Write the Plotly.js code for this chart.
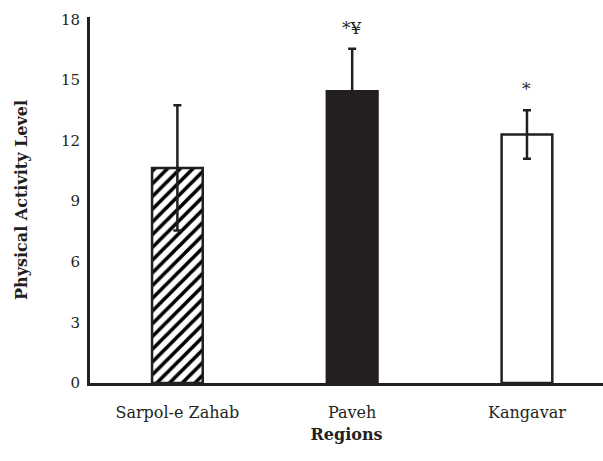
<!DOCTYPE html>
<html>
<head>
<meta charset="utf-8">
<script src="https://cdn.plot.ly/plotly-3.0.1.min.js"></script>
<style>html,body{margin:0;padding:0;background:#fff;}#chart{width:603px;height:461px;}</style>
</head>
<body>
<div id="chart"></div>
<script>
const regions = ["Sarpol-e Zahab", "Paveh", "Kangavar"];
const activity = [10.65, 14.45, 12.3];
const sdErr = [3.1, 2.1, 1.2];
const marks = ["", "*¥", "*"];
const yTicks = [0, 3, 6, 9, 12, 15, 18];

const ink = "#231f20";
const serif = "DejaVu Serif, Liberation Serif, serif";

const traces = regions.map((r, i) => ({
  type: "bar",
  x: [r],
  y: [activity[i]],
  width: 0.29,
  marker: {
    color: i === 1 ? ink : "#ffffff",
    line: {color: ink, width: 2.5},
    pattern: i === 0 ? {shape: "/", fgcolor: "#000000", fgopacity: 1, size: 9, solidity: 0.4, fillmode: "overlay"} : {shape: ""}
  },
  error_y: {type: "data", array: [sdErr[i]], visible: true, color: ink, thickness: 2.5, width: 4},
  showlegend: false,
  hoverinfo: "skip"
}));

const annotations = regions.map((r, i) => ({
  x: r, y: activity[i] + sdErr[i], xref: "x", yref: "y",
  text: marks[i], showarrow: false, yanchor: "bottom", yshift: 9,
  font: {family: serif, size: 17, color: ink}
})).filter(a => a.text);

const layout = {
  width: 603, height: 461,
  margin: {l: 90, r: 0, t: 17, b: 78},
  paper_bgcolor: "#ffffff", plot_bgcolor: "#ffffff",
  xaxis: {
    type: "category",
    range: [-0.5, 2.435],
    showline: true, linecolor: ink, linewidth: 3,
    showgrid: false, zeroline: false, ticks: "",
    tickfont: {family: serif, size: 16, color: ink},
    ticklabelstandoff: 13,
    title: {text: "<b>Regions</b>", font: {family: serif, size: 16, color: ink}, standoff: 8}
  },
  yaxis: {
    range: [0, 18.12],
    tickvals: yTicks,
    ticktext: yTicks.map(String),
    showline: true, linecolor: ink, linewidth: 3,
    showgrid: false, zeroline: false, ticks: "",
    tickfont: {family: serif, size: 15, color: ink},
    ticklabelstandoff: 4,
    title: {text: "<b>Physical Activity Level</b>", font: {family: serif, size: 16, color: ink}, standoff: 30}
  },
  annotations: annotations
};

Plotly.newPlot("chart", traces, layout, {displayModeBar: false, staticPlot: true});
</script>
</body>
</html>
